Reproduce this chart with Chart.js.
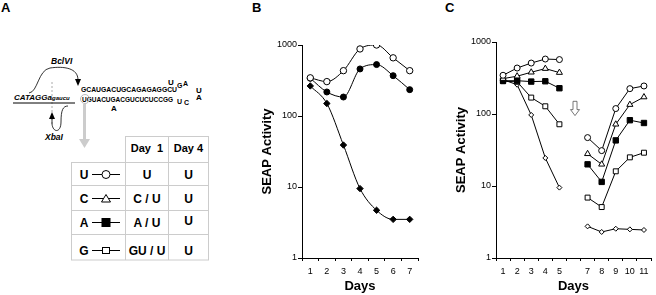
<!DOCTYPE html>
<html>
<head>
<meta charset="utf-8">
<script src="https://cdn.jsdelivr.net/npm/chart.js@4"></script>
<style>
  body { margin: 0; background: #fff; width: 656px; height: 295px; overflow: hidden; position: relative; font-family: Arial, "Liberation Sans", sans-serif; }
  canvas { position: absolute; top: 0; }
  .panel { position: absolute; top: 0; font: bold 13px Arial, "Liberation Sans", sans-serif; }
</style>
</head>
<body>

<!-- panel A: construct diagram and table -->
<svg width="240" height="295" style="position:absolute;left:0;top:0" font-family="Arial, 'Liberation Sans', sans-serif">
  <text x="1" y="12" font-size="13" font-weight="bold">A</text>

  <text x="51" y="64" font-size="8.5" font-weight="bold" font-style="italic">BclVI</text>
  <path d="M29,93 C38,92 38,70 50,68 C64,66 78,68 78,80" fill="none" stroke="#000" stroke-width="0.8"/>
  <path d="M75,79 L81,79 L78,86 Z" fill="#000"/>

  <line x1="52" y1="82" x2="52" y2="126" stroke="#aaa" stroke-dasharray="2,2"/>
  <text x="14" y="100" font-size="8" font-weight="bold" font-style="italic">CATAGGa</text>
  <text x="52" y="100" font-size="6" font-weight="bold" font-style="italic">gaucu</text>
  <line x1="13" y1="103" x2="75" y2="103" stroke="#000" stroke-width="1"/>

  <path d="M52,118 L52,124 C53,133 61,133 61,122 C61,110 63,106 68,106" fill="none" stroke="#000" stroke-width="0.8"/>
  <path d="M49,119 L55,119 L52,112 Z" fill="#000"/>
  <text x="45" y="140" font-size="8.5" font-weight="bold" font-style="italic">XbaI</text>

  <g font-size="8" font-weight="bold">
    <text x="81" y="92" textLength="96" lengthAdjust="spacingAndGlyphs">GCAUGACUGCAGAGAGGCU</text>
    <text x="168" y="85">U</text>
    <text x="177" y="88" font-size="7">G</text>
    <text x="183" y="86" font-size="7">A</text>
    <text x="196" y="93">U</text>
    <text x="82" y="102" textLength="91" lengthAdjust="spacingAndGlyphs">UGUACUGACGUCUCUCCGG</text>
    <text x="111" y="111">A</text>
    <text x="177" y="104" font-size="7">U</text>
    <text x="184" y="105" font-size="7">C</text>
    <text x="196" y="100">A</text>
  </g>
  <circle cx="85" cy="99" r="4.5" fill="none" stroke="#bbb" stroke-width="1"/>
  <rect x="83" y="104" width="3" height="36" fill="#ccc"/>
  <path d="M79,139 L90,139 L84.5,148 Z" fill="#ccc"/>

  <g stroke="#ccc" stroke-width="1" fill="none">
    <rect x="125.5" y="136.5" width="83" height="26"/>
    <rect x="71.5" y="162.5" width="137" height="97.5"/>
    <line x1="125.5" y1="162.5" x2="125.5" y2="260"/>
    <line x1="168.5" y1="136.5" x2="168.5" y2="260"/>
    <line x1="71.5" y1="185.5" x2="208.5" y2="185.5"/>
    <line x1="71.5" y1="210.5" x2="208.5" y2="210.5"/>
    <line x1="71.5" y1="234.5" x2="208.5" y2="234.5"/>
  </g>
  <g font-size="11" font-weight="bold" text-anchor="middle">
    <text x="147" y="152" xml:space="preserve">Day  1</text>
    <text x="188.5" y="152">Day 4</text>
  </g>
  <g font-size="12" font-weight="bold" text-anchor="middle">
    <text x="84" y="179">U</text><text x="147" y="179">U</text><text x="188.5" y="179">U</text>
    <text x="84" y="203">C</text><text x="147" y="203">C / U</text><text x="188.5" y="203">U</text>
    <text x="84" y="227">A</text><text x="147" y="227">A / U</text><text x="188.5" y="225">U</text>
    <text x="84" y="255">G</text><text x="147" y="255">GU / U</text><text x="188.5" y="255">U</text>
  </g>
  <g stroke="#000" stroke-width="1">
    <line x1="92" y1="174.5" x2="120" y2="174.5"/>
    <line x1="92" y1="198.5" x2="120" y2="198.5"/>
    <line x1="92" y1="222.5" x2="120" y2="222.5"/>
    <line x1="92" y1="250.5" x2="120" y2="250.5"/>
    <circle cx="106" cy="174.5" r="4" fill="#fff"/>
    <path d="M101.5,202 L110.5,202 L106,194.5 Z" fill="#fff"/>
    <rect x="102" y="218.5" width="8" height="8" fill="#000"/>
    <rect x="102.5" y="247.5" width="7" height="6" fill="#fff"/>
  </g>
</svg>

<div class="panel" style="left:252px">B</div>
<div class="panel" style="left:445px">C</div>

<canvas id="chartB" width="174" height="295" style="left:256px"></canvas>
<canvas id="chartC" width="206" height="295" style="left:450px"></canvas>

<script>
// panel B
const DAYS_B = [1, 2, 3, 4, 5, 6, 7];
const B_OPEN_CIRCLE = [345, 305, 435, 880, 1000, 660, 435];
const B_FILLED_CIRCLE = [340, 218, 185, 460, 530, 370, 235];
const B_FILLED_DIAMOND = [265, 150, 39, 9.5, 4.7, 3.5, 3.5];

// panel C (no measurement on day 6)
const DAYS_C = [1, 2, 3, 4, 5, 6, 7, 8, 9, 10, 11];
const X_LABELS_C = ['1', '2', '3', '4', '5', '', '7', '8', '9', '10', '11'];
const C_U = [345, 435, 510, 580, 570, null, 47, 31, 119, 225, 245];
const C_C = [310, 335, 380, 427, 376, null, 28, 20, 72, 135, 172];
const C_A = [290, 290, 282, 285, 228, null, 20, 11.4, 43, 82, 75];
const C_G = [285, 280, 169, 128, 72, null, 6.9, 5.1, 16, 25, 29];
const C_DIAMOND = [300, 255, 97, 24.5, 9.5, null, 2.75, 2.3, 2.55, 2.5, 2.45];

const LOG_TICKS = [1, 10, 100, 1000];
const ARROW_DAY = 6, ARROW_TOP = 150, ARROW_BOTTOM = 95;

Chart.defaults.font.family = 'Arial, "Liberation Sans", sans-serif';
Chart.defaults.color = '#000';

function pts(days, vals) {
  return days.map((d, i) => ({ x: d, y: vals[i] }));
}

function series(days, vals, style, fill, radius) {
  return {
    data: pts(days, vals),
    borderColor: '#000',
    borderWidth: 1,
    pointStyle: style,
    pointRadius: radius,
    pointBackgroundColor: fill,
    pointBorderColor: '#000',
    pointBorderWidth: 1,
    spanGaps: false
  };
}

function axes(dayMax, days, labels, yWidth) {
  return {
    x: {
      type: 'linear', min: 0.5, max: dayMax,
      afterBuildTicks: s => { s.ticks = days.map(v => ({ value: v })); },
      afterFit: s => { s.height = 37; },
      ticks: { font: { size: 9 }, padding: 5, autoSkip: false, maxRotation: 0,
               callback: (v, i) => labels[i] },
      grid: { offset: true, drawOnChartArea: false, tickLength: 3, color: '#000' },
      border: { color: '#000' },
      title: { display: true, text: 'Days', font: { size: 13, weight: 'bold' }, padding: { top: 0, bottom: 1 } }
    },
    y: {
      type: 'logarithmic', min: 1, max: 1000,
      afterBuildTicks: s => { s.ticks = LOG_TICKS.map(v => ({ value: v })); },
      afterFit: s => { s.width = yWidth; },
      ticks: { font: { size: 9 }, padding: 1, callback: v => String(v) },
      grid: { drawOnChartArea: false, tickLength: 4, color: '#000' },
      border: { color: '#000' },
      title: { display: true, text: 'SEAP Activity', font: { size: 13, weight: 'bold' }, padding: { top: 4, bottom: 0 } }
    }
  };
}

const gapArrow = {
  id: 'gapArrow',
  afterDatasetsDraw(chart) {
    const { ctx, scales: { x, y } } = chart;
    const cx = x.getPixelForValue(ARROW_DAY) + 1.5;
    const top = y.getPixelForValue(ARROW_TOP);
    const bot = y.getPixelForValue(ARROW_BOTTOM);
    const head = bot - 6;
    ctx.save();
    ctx.beginPath();
    ctx.moveTo(cx - 2, top);
    ctx.lineTo(cx + 2, top);
    ctx.lineTo(cx + 2, head);
    ctx.lineTo(cx + 4.5, head);
    ctx.lineTo(cx, bot);
    ctx.lineTo(cx - 4.5, head);
    ctx.lineTo(cx - 2, head);
    ctx.closePath();
    ctx.fillStyle = '#fff';
    ctx.fill();
    ctx.strokeStyle = '#555';
    ctx.lineWidth = 0.8;
    ctx.stroke();
    ctx.restore();
  }
};

new Chart(document.getElementById('chartB'), {
  type: 'line',
  data: {
    datasets: [
      series(DAYS_B, B_OPEN_CIRCLE, 'circle', '#fff', 3.2),
      series(DAYS_B, B_FILLED_CIRCLE, 'circle', '#000', 3),
      series(DAYS_B, B_FILLED_DIAMOND, 'rectRot', '#000', 3.2)
    ]
  },
  options: {
    responsive: false, animation: false, devicePixelRatio: 1,
    cubicInterpolationMode: 'monotone',
    layout: { padding: { top: 45, right: 12, left: 0, bottom: 0 } },
    plugins: { legend: { display: false }, tooltip: { enabled: false } },
    scales: axes(7.5, DAYS_B, DAYS_B.map(String), 46)
  }
});

new Chart(document.getElementById('chartC'), {
  type: 'line',
  data: {
    datasets: [
      series(DAYS_C, C_U, 'circle', '#fff', 3),
      series(DAYS_C, C_C, 'triangle', '#fff', 3.5),
      series(DAYS_C, C_A, 'rect', '#000', 3.8),
      series(DAYS_C, C_G, 'rect', '#fff', 3.5),
      series(DAYS_C, C_DIAMOND, 'rectRot', '#fff', 2.5)
    ]
  },
  options: {
    responsive: false, animation: false, devicePixelRatio: 1,
    layout: { padding: { top: 42, right: 2, left: 0, bottom: 0 } },
    plugins: { legend: { display: false }, tooltip: { enabled: false } },
    scales: axes(11.5, DAYS_C, X_LABELS_C, 46)
  },
  plugins: [gapArrow]
});
</script>
</body>
</html>
